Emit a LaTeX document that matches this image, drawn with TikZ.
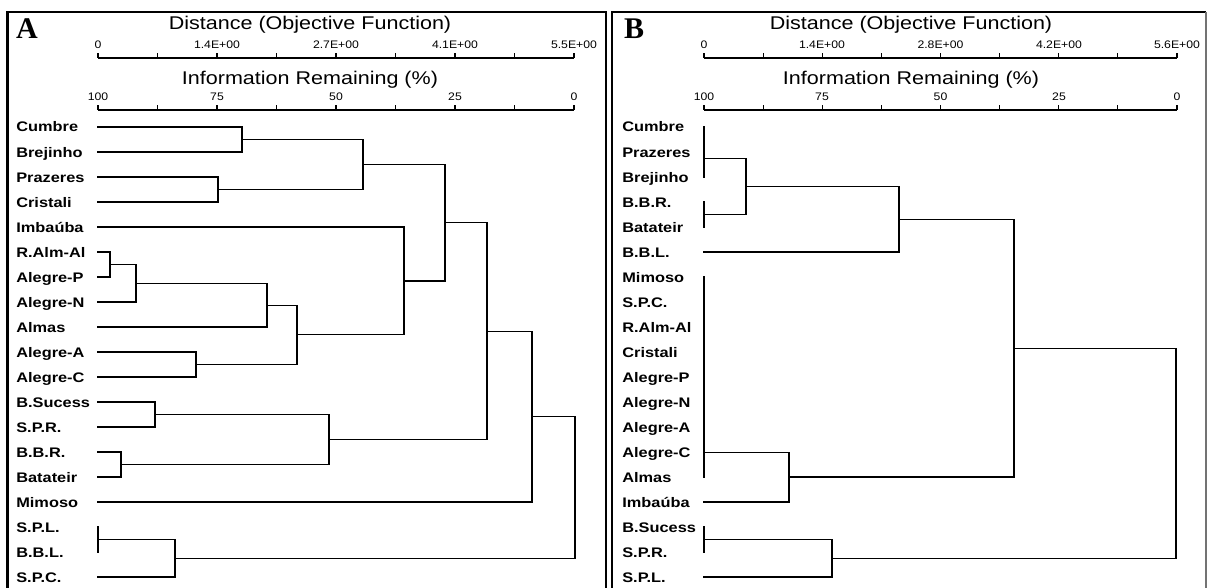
\documentclass[tikz,border=0pt]{standalone}
\usepackage{fontspec}
\setmainfont{Liberation Sans}
\newfontfamily\timesf{Liberation Serif}
\usetikzlibrary{calc}
\tikzset{
  dl/.style={line width=0.9pt, line cap=rect},
  frame/.style={line width=1.9pt},
  leaf/.style={anchor=base west, inner sep=0pt, xscale=1.18, font=\fontsize{10.4pt}{11pt}\selectfont\bfseries},
  ticklab/.style={anchor=base, inner sep=0pt, xscale=1.12, font=\fontsize{8.2pt}{9pt}\selectfont},
  axtitle/.style={anchor=base, inner sep=0pt, xscale=1.17, font=\fontsize{13.8pt}{15pt}\selectfont},
  panlab/.style={anchor=base, inner sep=0pt, font=\fontsize{22.5pt}{24pt}\selectfont\timesf\bfseries},
  axline/.style={line width=0.9pt},
}
\newcommand\jn[4]{%
  \coordinate (J#4) at (#3,0);
  \draw[dl] (#1) -- (#1 -| J#4) -- (#2 -| J#4) -- (#2);
  \coordinate (#4) at ($(#1 -| J#4)!0.5!(#2 -| J#4)$);
}
% axis: #1 prefix, #2 x0, #3 x1, #4 y
\newcommand\axisline[4]{%
  \coordinate (#1s) at (#2,#4);
  \coordinate (#1e) at (#3,#4);
  \draw[axline] (#1s) -- (#1e);
  \foreach \k in {0,...,8}{
    \draw[axline] ($(#1s)!\k/8!(#1e)$) -- ++(0,-4.5);
  }
}
\begin{document}
\begin{tikzpicture}[x=0.75pt,y=-0.75pt]
\useasboundingbox (0,0) rectangle (1209,588);
% frames
\coordinate (fa1) at (7.5,588); \coordinate (fa2) at (7.5,12); \coordinate (fa3) at (606,12); \coordinate (fa4) at (606,588);
\draw[frame] (fa1) -- (fa2) -- (fa3) -- (fa4);
\coordinate (fb1) at (612,588); \coordinate (fb2) at (612,12); \coordinate (fb3) at (1206,12); \coordinate (fb4) at (1206,588);
\draw[frame] (fb1) -- (fb2) -- (fb3);
\draw[line width=1pt, black!55] (fb3) -- (fb4);

% ---------- Panel A ----------
\node[panlab] (labA) at (27,39) {A};
\node[axtitle] (tA1) at (310,30) {Distance (Objective Function)};
\node[ticklab] (da0) at (98,48.5) {0};
\node[ticklab] (da1) at (217,48.5) {1.4E+00};
\node[ticklab] (da2) at (336,48.5) {2.7E+00};
\node[ticklab] (da3) at (455,48.5) {4.1E+00};
\node[ticklab] (da4) at (574,48.5) {5.5E+00};
\axisline{axA1}{98}{574}{58}
\node[axtitle] (tA2) at (310,85) {Information Remaining (\%)};
\node[ticklab] (ia0) at (98,101) {100};
\node[ticklab] (ia1) at (217,101) {75};
\node[ticklab] (ia2) at (336,101) {50};
\node[ticklab] (ia3) at (455,101) {25};
\node[ticklab] (ia4) at (574,101) {0};
\axisline{axA2}{98}{574}{110}

\foreach \nm/\y/\t in {a1/127/Cumbre, a2/152/Brejinho, a3/177/Prazeres, a4/202/Cristali,
  a5/227/Imbaúba, a6/252/R.Alm-Al, a7/277/Alegre-P, a8/302/Alegre-N, a9/327/Almas,
  a10/352/Alegre-A, a11/377/Alegre-C, a12/402/B.Sucess, a13/427/S.P.R., a14/452/B.B.R.,
  a15/477/Batateir, a16/502/Mimoso, a17/527/S.P.L., a18/552/B.B.L., a19/577/S.P.C.}{
  \node[leaf] (l\nm) at (16,\y+5) {\t};
  \coordinate (\nm) at (98,\y);
}
\jn{a1}{a2}{242}{ca1}
\jn{a3}{a4}{218}{ca2}
\jn{ca1}{ca2}{363}{ca3}
\jn{a6}{a7}{110}{ca4}
\jn{ca4}{a8}{136}{ca5}
\jn{ca5}{a9}{267}{ca6}
\jn{a10}{a11}{196}{ca7}
\jn{ca6}{ca7}{297}{ca8}
\jn{a5}{ca8}{404}{ca9}
\jn{ca3}{ca9}{445}{ca10}
\jn{a12}{a13}{155}{ca11}
\jn{a14}{a15}{121}{ca12}
\jn{ca11}{ca12}{329}{ca13}
\jn{ca10}{ca13}{487}{ca14}
\jn{ca14}{a16}{532}{ca15}
\jn{a17}{a18}{98}{ca16}
\jn{ca16}{a19}{175}{ca17}
\jn{ca15}{ca17}{575}{ca18}

% ---------- Panel B ----------
\node[panlab] (labB) at (634,39) {B};
\node[axtitle] (tB1) at (911,30) {Distance (Objective Function)};
\node[ticklab] (db0) at (704,48.5) {0};
\node[ticklab] (db1) at (822,48.5) {1.4E+00};
\node[ticklab] (db2) at (940.5,48.5) {2.8E+00};
\node[ticklab] (db3) at (1059,48.5) {4.2E+00};
\node[ticklab] (db4) at (1177,48.5) {5.6E+00};
\axisline{axB1}{704}{1177}{58}
\node[axtitle] (tB2) at (911,85) {Information Remaining (\%)};
\node[ticklab] (ib0) at (704,101) {100};
\node[ticklab] (ib1) at (822,101) {75};
\node[ticklab] (ib2) at (940.5,101) {50};
\node[ticklab] (ib3) at (1059,101) {25};
\node[ticklab] (ib4) at (1177,101) {0};
\axisline{axB2}{704}{1177}{110}

\foreach \nm/\y/\t in {b1/127/Cumbre, b2/152/Prazeres, b3/177/Brejinho, b4/202/B.B.R.,
  b5/227/Batateir, b6/252/B.B.L., b7/277/Mimoso, b8/302/S.P.C., b9/327/R.Alm-Al,
  b10/352/Cristali, b11/377/Alegre-P, b12/402/Alegre-N, b13/427/Alegre-A, b14/452/Alegre-C,
  b15/477/Almas, b16/502/Imbaúba, b17/527/B.Sucess, b18/552/S.P.R., b19/577/S.P.L.}{
  \node[leaf] (l\nm) at (622,\y+5) {\t};
  \coordinate (\nm) at (704,\y);
}
\jn{b1}{b2}{704}{cb1}
\jn{cb1}{b3}{704}{cb2}
\jn{b4}{b5}{704}{cb3}
\jn{cb2}{cb3}{746}{cb4}
\jn{cb4}{b6}{899}{cb5}
\jn{b7}{b8}{704}{cb6}
\jn{cb6}{b9}{704}{cb7}
\jn{cb7}{b10}{704}{cb8}
\jn{cb8}{b11}{704}{cb9}
\jn{cb9}{b12}{704}{cb10}
\jn{cb10}{b13}{704}{cb11}
\jn{cb11}{b14}{704}{cb12}
\jn{cb12}{b15}{704}{cb13}
\jn{cb13}{b16}{789}{cb14}
\jn{cb5}{cb14}{1014}{cb15}
\jn{b17}{b18}{704}{cb16}
\jn{cb16}{b19}{832}{cb17}
\jn{cb15}{cb17}{1176}{cb18}
\end{tikzpicture}
\end{document}
